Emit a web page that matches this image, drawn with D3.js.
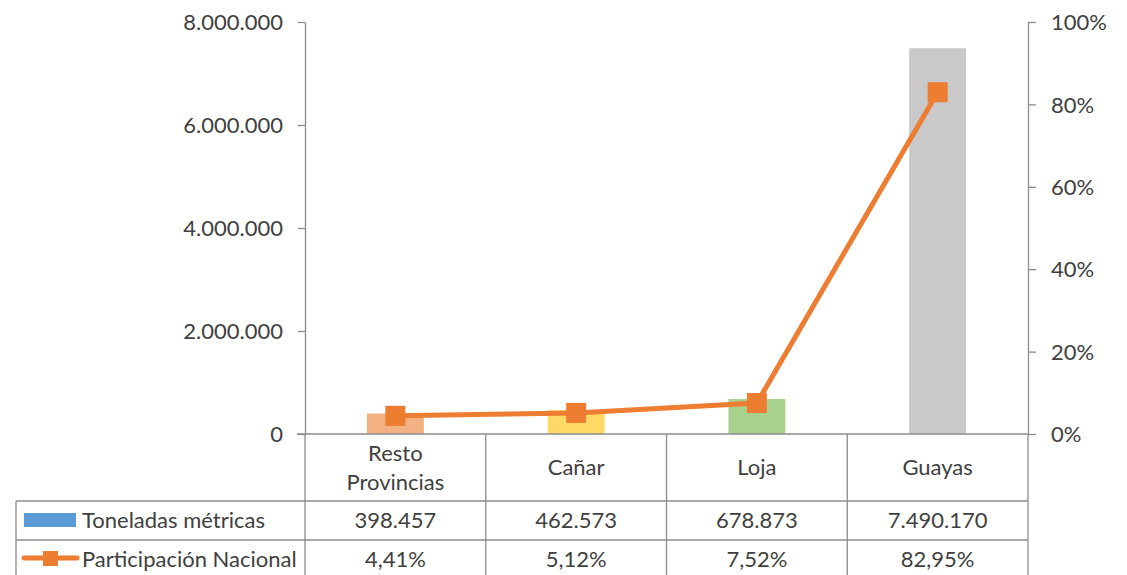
<!DOCTYPE html>
<html>
<head>
<meta charset="utf-8">
<script src="https://cdn.jsdelivr.net/npm/d3@7"></script>
<style>
  body { margin: 0; background: #fff; }
  svg { display: block; }
  text { font-family: Lato, "Open Sans", sans-serif; fill: #404040; }
</style>
</head>
<body>
<svg width="1127" height="575"></svg>
<script>
// datos del grafico
var provincias = ["Resto Provincias", "Cañar", "Loja", "Guayas"];
var toneladas = [398457, 462573, 678873, 7490170];
var participacion = [0.0441, 0.0512, 0.0752, 0.8295];
var coloresBarras = ["#F4B183", "#FFD966", "#A9D18E", "#C9C9C9"];
var ticksToneladas = [0, 2000000, 4000000, 6000000, 8000000];
var ticksPorcentaje = [0, 0.2, 0.4, 0.6, 0.8, 1];
var series = ["Toneladas métricas", "Participación Nacional"];

var svg = d3.select("svg"),
    plot = {left: 305, right: 1028, top: 22, bottom: 434},
    tabla = {left: 16, row1: 501, row2: 540, bottom: 575},
    lineaGris = "#8c8c8c",
    naranja = "#ED7D31",
    fuente = "22px";

// formato con punto de miles y coma decimal
var es = d3.formatLocale({decimal: ",", thousands: ".", grouping: [3], currency: ["$", ""]});
var fmtNum = es.format(",d"),
    fmtPct0 = es.format(".0%"),
    fmtPct2 = es.format(".2%");

var x = d3.scaleBand().domain(provincias).range([plot.left, plot.right]).padding(0),
    y = d3.scaleLinear().domain([0, 8000000]).range([plot.bottom, plot.top]),
    y2 = d3.scaleLinear().domain([0, 1]).range([plot.bottom, plot.top]);

var barW = x.bandwidth() * 0.315;

// barras
svg.selectAll(".bar")
  .data(provincias)
  .enter().append("rect")
    .attr("class", "bar")
    .attr("x", function(d) { return x(d) + x.bandwidth() / 2 - barW / 2; })
    .attr("y", function(d, i) { return y(toneladas[i]); })
    .attr("width", barW)
    .attr("height", function(d, i) { return plot.bottom - y(toneladas[i]); })
    .attr("fill", function(d, i) { return coloresBarras[i]; });

// eje izquierdo
var ejeY = svg.append("g")
  .attr("transform", "translate(" + plot.left + ",0)")
  .call(d3.axisLeft(y).tickValues(ticksToneladas).tickFormat(fmtNum).tickSizeInner(7).tickSizeOuter(0).tickPadding(15));

// eje derecho
var ejeY2 = svg.append("g")
  .attr("transform", "translate(" + plot.right + ",0)")
  .call(d3.axisRight(y2).tickValues(ticksPorcentaje).tickFormat(fmtPct0).tickSizeInner(8).tickSizeOuter(0).tickPadding(15));

[ejeY, ejeY2].forEach(function(g) {
  g.select(".domain").attr("stroke", lineaGris).attr("stroke-width", 1.3);
  g.selectAll(".tick line").attr("stroke", lineaGris).attr("stroke-width", 1.3);
  g.selectAll(".tick text").style("font-size", fuente).attr("fill", "#404040").attr("dy", "0.35em");
});

// linea de participacion
var linea = d3.line()
  .x(function(d, i) { return x(provincias[i]) + x.bandwidth() / 2; })
  .y(function(d) { return y2(d); });

svg.append("path")
  .datum(participacion)
  .attr("d", linea)
  .attr("fill", "none")
  .attr("stroke", naranja)
  .attr("stroke-width", 5)
  .attr("stroke-linejoin", "round");

svg.selectAll(".marker")
  .data(participacion)
  .enter().append("rect")
    .attr("class", "marker")
    .attr("x", function(d, i) { return x(provincias[i]) + x.bandwidth() / 2 - 10; })
    .attr("y", function(d) { return y2(d) - 10; })
    .attr("width", 20)
    .attr("height", 20)
    .attr("fill", naranja);

// tabla de datos
var t = svg.append("g").attr("stroke", lineaGris).attr("stroke-width", 1.3);
t.append("line").attr("x1", plot.left - 8).attr("x2", plot.right).attr("y1", plot.bottom).attr("y2", plot.bottom);
[tabla.row1, tabla.row2].forEach(function(yy) {
  t.append("line").attr("x1", tabla.left).attr("x2", plot.right).attr("y1", yy).attr("y2", yy);
});
t.append("line").attr("x1", tabla.left).attr("x2", tabla.left).attr("y1", tabla.row1).attr("y2", tabla.bottom);
provincias.concat([null]).forEach(function(d, i) {
  var xx = d ? x(d) : plot.right;
  t.append("line").attr("x1", xx).attr("x2", xx).attr("y1", plot.bottom).attr("y2", tabla.bottom);
});

// etiquetas de categorias
provincias.forEach(function(d, i) {
  var cx = x(d) + x.bandwidth() / 2;
  var partes = d === "Resto Provincias" ? ["Resto", "Provincias"] : [d];
  var txt = svg.append("text").attr("text-anchor", "middle").style("font-size", fuente);
  partes.forEach(function(p, j) {
    txt.append("tspan")
      .attr("x", cx)
      .attr("y", (plot.bottom + tabla.row1) / 2 + (j - (partes.length - 1) / 2) * 29)
      .attr("dy", "0.35em")
      .text(p);
  });
});

// valores
var filas = [
  {y: (tabla.row1 + tabla.row2) / 2, vals: toneladas.map(fmtNum)},
  {y: (tabla.row2 + tabla.bottom + 4) / 2, vals: participacion.map(fmtPct2)}
];
filas.forEach(function(f) {
  provincias.forEach(function(d, i) {
    svg.append("text")
      .attr("x", x(d) + x.bandwidth() / 2)
      .attr("y", f.y)
      .attr("dy", "0.35em")
      .attr("text-anchor", "middle")
      .style("font-size", fuente)
      .text(f.vals[i]);
  });
});

// leyenda en la tabla
svg.append("rect").attr("x", 24).attr("y", 513).attr("width", 52).attr("height", 14).attr("fill", "#5B9BD5");
svg.append("line").attr("x1", 24).attr("x2", 77).attr("y1", 558).attr("y2", 558)
  .attr("stroke", naranja).attr("stroke-width", 5).attr("stroke-linecap", "round");
svg.append("rect").attr("x", 43).attr("y", 551).attr("width", 15).attr("height", 15).attr("fill", naranja);

svg.selectAll(".leyenda")
  .data(series)
  .enter().append("text")
    .attr("class", "leyenda")
    .attr("x", 82)
    .attr("y", function(d, i) { return i === 0 ? filas[0].y : filas[1].y; })
    .attr("dy", "0.35em")
    .style("font-size", fuente)
    .text(function(d) { return d; });
</script>
</body>
</html>
